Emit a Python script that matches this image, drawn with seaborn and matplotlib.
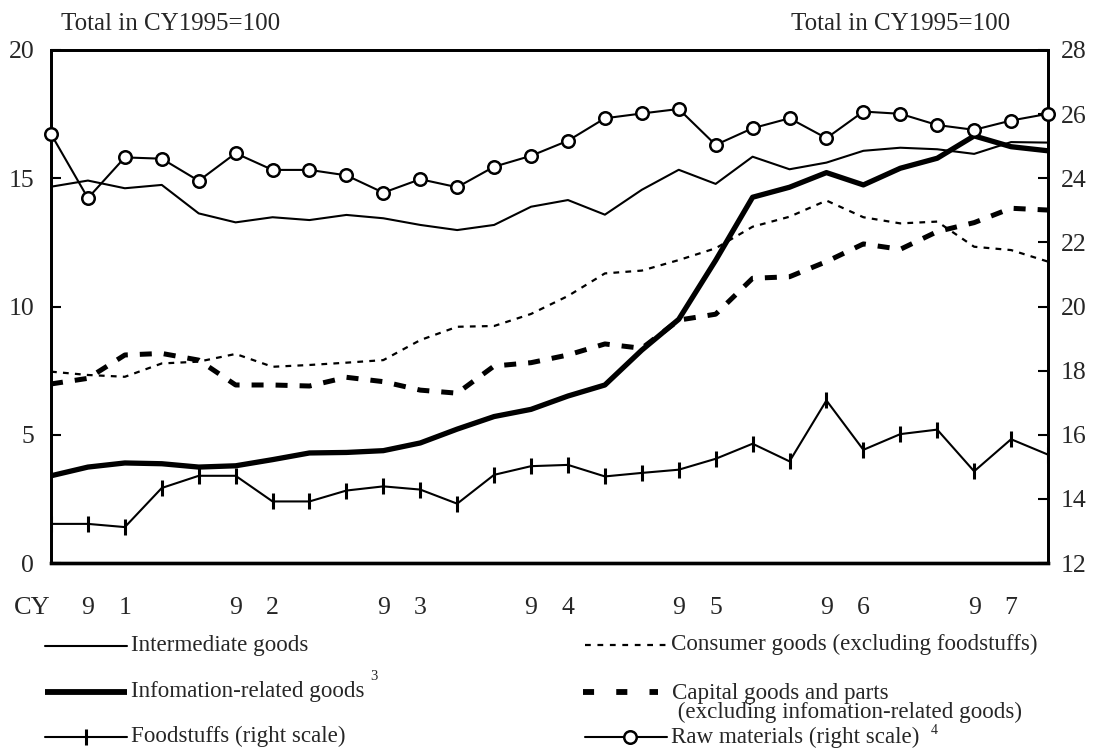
import numpy as np
import pandas as pd
import seaborn as sns
import matplotlib
matplotlib.use('Agg')
import matplotlib.pyplot as plt
from matplotlib.lines import Line2D

# quarterly data, CY1991 Q1 .. CY1997 Q4 (total in CY1995 = 100)
years = ['91', '92', '93', '94', '95', '96', '97']
quarters = np.arange(28)

intermediate = [14.67, 14.91, 14.61, 14.74, 13.63, 13.28, 13.48, 13.37, 13.57, 13.44,
                13.18, 12.98, 13.18, 13.89, 14.15, 13.58, 14.55, 15.33, 14.78, 15.84,
                15.35, 15.61, 16.07, 16.19, 16.13, 15.95, 16.41, 16.39]
consumer = [7.46, 7.33, 7.26, 7.78, 7.85, 8.15, 7.65, 7.72, 7.81, 7.91,
            8.69, 9.21, 9.24, 9.71, 10.41, 11.29, 11.40, 11.81, 12.27, 13.11,
            13.50, 14.13, 13.48, 13.24, 13.31, 12.33, 12.20, 11.75]
info = [3.40, 3.74, 3.90, 3.87, 3.74, 3.79, 4.03, 4.29, 4.31, 4.38,
        4.68, 5.22, 5.71, 5.99, 6.51, 6.94, 8.30, 9.50, 11.80, 14.26,
        14.65, 15.22, 14.74, 15.39, 15.78, 16.65, 16.23, 16.07]
capital = [6.98, 7.20, 8.11, 8.17, 7.91, 6.94, 6.94, 6.90, 7.24, 7.07,
           6.74, 6.62, 7.68, 7.81, 8.11, 8.54, 8.37, 9.47, 9.70, 11.10,
           11.16, 11.75, 12.44, 12.23, 12.92, 13.27, 13.83, 13.76]
# right scale
food = [13.22, 13.22, 13.12, 14.34, 14.72, 14.72, 13.92, 13.92, 14.26, 14.39,
        14.29, 13.85, 14.75, 15.02, 15.06, 14.70, 14.81, 14.91, 15.25, 15.72,
        15.17, 17.07, 15.53, 16.02, 16.16, 14.86, 15.86, 15.38]
raw = [25.38, 23.38, 24.65, 24.61, 23.92, 24.78, 24.26, 24.26, 24.09, 23.55,
       23.97, 23.72, 24.36, 24.70, 25.17, 25.87, 26.02, 26.16, 25.04, 25.56,
       25.87, 25.25, 26.08, 26.01, 25.66, 25.51, 25.80, 26.01]

sns.set_style("white")
plt.rcParams['font.family'] = ['Liberation Serif', 'DejaVu Serif']

W, H = 1098, 751
fig = plt.figure(figsize=(W / 100, H / 100), dpi=100)
ax = fig.add_axes([51 / W, 1 - 563 / H, (1048 - 51) / W, (563 - 50) / H])

sns.lineplot(x=quarters, y=intermediate, ax=ax, color='black', linewidth=1.5)
sns.lineplot(x=quarters, y=consumer, ax=ax, color='black', linewidth=1.6,
             linestyle=(0, (2.6, 2.8)))
sns.lineplot(x=quarters, y=capital, ax=ax, color='black', linewidth=3.6,
             linestyle=(0, (2.4, 2.4)))
sns.lineplot(x=quarters, y=info, ax=ax, color='black', linewidth=3.8)

ax2 = ax.twinx()
sns.lineplot(x=quarters, y=food, ax=ax2, color='black', linewidth=1.5,
             marker='|', markersize=12, markeredgewidth=2.2,
             markeredgecolor='black')
sns.lineplot(x=quarters, y=raw, ax=ax2, color='black', linewidth=1.5,
             marker='o', markersize=9, markerfacecolor='white',
             markeredgecolor='black', markeredgewidth=1.8, clip_on=False, zorder=5)

ax.set_xlim(0, 27)
ax.set_ylim(0, 20)
ax2.set_ylim(12, 28)
ax.set_yticks([0, 5, 10, 15, 20])
ax2.set_yticks(np.arange(12, 29, 2))
ax.set_xlabel('')
ax.set_ylabel('')
ax2.set_ylabel('')

# year boundary ticks are heavier
major = [q for q in quarters if q % 4 in (0, 3)]
minor = [q for q in quarters if q % 4 in (1, 2)]
ax.set_xticks(major)
ax.set_xticks(minor, minor=True)
ax.tick_params(axis='x', which='major', direction='in', length=7, width=2.6,
               labelbottom=False, color='black')
ax.tick_params(axis='x', which='minor', direction='in', length=6, width=1.2,
               color='black')
ax.tick_params(axis='y', direction='in', length=7, width=1.5, labelsize=18.5,
               pad=12, left=True, right=False, color='black')
ax2.tick_params(axis='y', direction='in', length=7, width=1.5, labelsize=18.5,
                pad=9, right=True, color='black')

for a in (ax, ax2):
    for s in a.spines.values():
        s.set_color('black')
        s.set_linewidth(2.0)
    a.spines['bottom'].set_linewidth(2.4)

fig.text(61 / W, 1 - 24 / H, 'Total in CY1995=100', fontsize=18, va='center', ha='left')
fig.text(1010 / W, 1 - 24 / H, 'Total in CY1995=100', fontsize=18, va='center', ha='right')

# calendar year labels under the axis, digits at the 2nd and 3rd quarter
fig.text(32 / W, 1 - 608 / H, 'CY', fontsize=19, va='center', ha='center')
xt = ax.get_xaxis_transform()
for k, yr in enumerate(years):
    ax.text(4 * k + 1, -45 / (563 - 50), yr[0], transform=xt, fontsize=18.5,
            ha='center', va='center', clip_on=False)
    ax.text(4 * k + 2, -45 / (563 - 50), yr[1], transform=xt, fontsize=18.5,
            ha='center', va='center', clip_on=False)


def key(x0, x1, y, **kw):
    fig.add_artist(Line2D([x0 / W, x1 / W], [1 - y / H, 1 - y / H],
                          transform=fig.transFigure, color='black', **kw))


def label(x, y, s, size=16.6, **kw):
    fig.text(x / W, 1 - y / H, s, fontsize=size, va='center', ha='left', **kw)


key(45, 127, 646, linewidth=1.5)
label(131, 645, 'Intermediate goods')
key(45, 127, 692, linewidth=4.2, solid_capstyle='butt')
label(131, 691, 'Infomation-related goods')
label(370, 677, '3', size=10.5)
key(45, 127, 737, linewidth=1.5)
fig.add_artist(Line2D([86 / W], [1 - 737 / H], transform=fig.transFigure, color='black',
                      marker='|', markersize=12, markeredgewidth=2.2))
label(131, 736, 'Foodstuffs (right scale)')

key(585, 667, 645, linewidth=1.6, linestyle=(0, (2.6, 3.0)))
label(671, 644, 'Consumer goods (excluding foodstuffs)')
key(583, 658, 692, linewidth=4.2, linestyle=(0, (1.9, 3.8)))
fig.text(672 / W, 1 - 683 / H,
         'Capital goods and parts\n (excluding infomation-related goods)',
         fontsize=16.6, va='top', ha='left', linespacing=0.88)
key(585, 667, 737, linewidth=1.5)
fig.add_artist(Line2D([630 / W], [1 - 737 / H], transform=fig.transFigure, color='black',
                      marker='o', markersize=9, markerfacecolor='white',
                      markeredgewidth=1.8))
label(671, 737, 'Raw materials (right scale)')
label(931, 730, '4', size=10)

fig.savefig('out.png', dpi=100)
